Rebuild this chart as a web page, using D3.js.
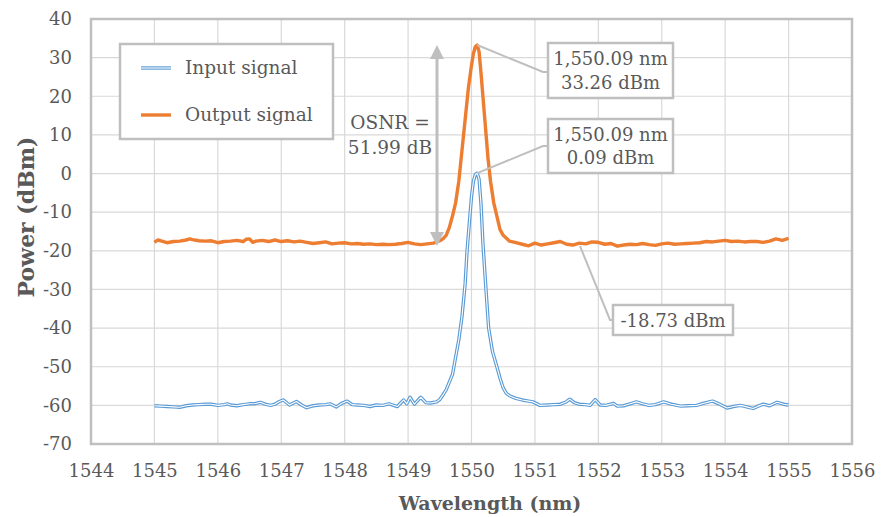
<!DOCTYPE html>
<html><head><meta charset="utf-8">
<script src="https://cdn.jsdelivr.net/npm/d3@7"></script>
<style>body{margin:0;background:#fff}svg{display:block}</style>
</head><body>
<svg id="c" width="885" height="517"></svg>
<script>
// ---- data ----
const xTicks = [1544,1545,1546,1547,1548,1549,1550,1551,1552,1553,1554,1555,1556];
const yTicks = [40,30,20,10,0,-10,-20,-30,-40,-50,-60,-70];
const seriesNames = ["Input signal","Output signal"];
const outputSignal = [
[1545.0,-17.8],[1545.05,-17.2],[1545.1,-17.4],[1545.2,-17.9],[1545.3,-17.6],[1545.4,-17.5],[1545.5,-17.2],[1545.56,-16.9],
[1545.6,-17.1],[1545.7,-17.4],[1545.8,-17.5],[1545.9,-17.4],[1546.0,-17.9],[1546.1,-17.6],[1546.2,-17.5],[1546.3,-17.3],
[1546.4,-17.6],[1546.45,-17.0],[1546.5,-16.9],[1546.55,-17.8],[1546.6,-17.5],[1546.7,-17.3],[1546.8,-17.6],[1546.9,-17.2],
[1547.0,-17.6],[1547.1,-17.4],[1547.2,-17.7],[1547.3,-17.5],[1547.4,-17.8],[1547.5,-18.1],[1547.6,-17.9],[1547.7,-17.7],
[1547.8,-18.2],[1547.9,-18.0],[1548.0,-17.9],[1548.1,-18.2],[1548.2,-18.1],[1548.3,-18.3],[1548.4,-18.2],[1548.5,-18.4],
[1548.6,-18.3],[1548.7,-18.4],[1548.8,-18.3],[1548.9,-18.1],[1549.0,-17.8],[1549.1,-18.2],[1549.2,-18.4],[1549.3,-18.2],
[1549.4,-18.0],[1549.5,-17.4],[1549.55,-16.9],[1549.6,-16.0],[1549.65,-14.0],[1549.7,-11.0],[1549.75,-7.5],[1549.8,-2.0],
[1549.85,6.0],[1549.9,14.0],[1549.95,22.0],[1550.0,28.0],[1550.03,31.0],[1550.06,32.8],[1550.09,33.26],[1550.12,31.5],
[1550.15,26.0],[1550.18,20.0],[1550.22,12.0],[1550.26,4.0],[1550.3,-2.0],[1550.35,-7.5],[1550.4,-11.0],[1550.45,-14.5],
[1550.5,-16.0],[1550.6,-17.5],[1550.7,-17.9],[1550.8,-18.3],[1550.9,-18.7],[1551.0,-18.0],[1551.1,-18.5],[1551.2,-18.2],
[1551.3,-17.9],[1551.4,-17.6],[1551.5,-18.3],[1551.6,-18.5],[1551.7,-18.0],[1551.8,-18.2],[1551.9,-17.7],[1552.0,-17.8],
[1552.1,-18.3],[1552.2,-18.1],[1552.3,-18.8],[1552.4,-18.5],[1552.5,-18.3],[1552.6,-18.4],[1552.7,-18.1],[1552.8,-18.4],
[1552.9,-18.6],[1553.0,-18.2],[1553.1,-18.0],[1553.2,-18.3],[1553.3,-18.2],[1553.4,-18.1],[1553.5,-18.0],[1553.6,-17.9],
[1553.7,-17.6],[1553.8,-17.7],[1553.9,-17.5],[1554.0,-17.3],[1554.1,-17.6],[1554.2,-17.5],[1554.3,-17.7],[1554.4,-17.6],
[1554.5,-17.6],[1554.6,-17.8],[1554.7,-17.5],[1554.8,-16.9],[1554.9,-17.3],[1555.0,-16.8]
];
const inputSignal = [
[1545.0,-60.1],[1545.1,-60.2],[1545.2,-60.3],[1545.3,-60.4],[1545.4,-60.5],[1545.5,-60.1],[1545.6,-59.9],[1545.7,-59.8],
[1545.8,-59.7],[1545.9,-59.7],[1546.0,-60.0],[1546.1,-59.8],[1546.15,-59.6],[1546.2,-59.9],[1546.3,-60.1],[1546.4,-59.8],
[1546.5,-59.6],[1546.6,-59.5],[1546.67,-59.2],[1546.75,-59.7],[1546.83,-60.0],[1546.9,-59.7],[1546.97,-59.0],[1547.03,-58.6],
[1547.13,-59.9],[1547.24,-59.0],[1547.32,-59.9],[1547.4,-60.6],[1547.5,-60.1],[1547.6,-59.9],[1547.7,-59.8],[1547.77,-59.6],
[1547.87,-60.4],[1547.95,-59.5],[1548.04,-58.9],[1548.12,-59.8],[1548.2,-59.9],[1548.3,-60.0],[1548.4,-60.3],[1548.5,-59.9],
[1548.6,-60.0],[1548.7,-59.6],[1548.83,-60.3],[1548.93,-58.6],[1548.98,-59.6],[1549.03,-57.9],[1549.1,-59.7],[1549.2,-57.9],
[1549.28,-59.3],[1549.35,-59.4],[1549.45,-59.1],[1549.5,-58.5],[1549.55,-57.3],[1549.6,-56.0],[1549.65,-54.0],[1549.7,-52.0],
[1549.75,-47.5],[1549.8,-43.0],[1549.85,-37.0],[1549.9,-28.5],[1549.93,-20.0],[1549.97,-12.0],[1550.0,-6.0],[1550.03,-2.0],
[1550.06,-0.3],[1550.09,0.09],[1550.12,-1.5],[1550.15,-8.0],[1550.18,-18.0],[1550.22,-28.0],[1550.27,-40.0],[1550.33,-46.0],
[1550.4,-50.0],[1550.45,-53.0],[1550.5,-55.5],[1550.55,-56.9],[1550.6,-57.5],[1550.7,-58.2],[1550.8,-58.6],[1550.9,-58.9],
[1550.97,-59.1],[1551.08,-60.0],[1551.2,-59.9],[1551.3,-59.8],[1551.4,-59.7],[1551.48,-59.2],[1551.55,-58.4],[1551.62,-59.3],
[1551.7,-59.7],[1551.8,-59.8],[1551.87,-60.0],[1551.95,-58.5],[1552.03,-59.9],[1552.12,-60.0],[1552.24,-59.5],[1552.3,-60.2],
[1552.4,-60.1],[1552.5,-59.6],[1552.6,-59.1],[1552.7,-59.6],[1552.8,-60.0],[1552.9,-59.8],[1553.03,-59.1],[1553.15,-59.7],
[1553.3,-60.2],[1553.4,-60.1],[1553.55,-60.0],[1553.65,-59.5],[1553.8,-58.9],[1553.9,-59.6],[1554.03,-60.7],[1554.13,-60.3],
[1554.24,-60.0],[1554.34,-60.4],[1554.44,-60.8],[1554.52,-60.2],[1554.6,-59.7],[1554.7,-60.1],[1554.82,-59.2],[1554.92,-59.7],
[1555.0,-59.9]
];
const peakOut = [1550.09, 33.26];
const peakIn = [1550.09, 0.09];
const noiseFloor = [1551.71, -18.73];
const calloutOut = ["1,550.09 nm","33.26 dBm"];
const calloutIn = ["1,550.09 nm","0.09 dBm"];
const calloutNoise = ["-18.73 dBm"];
const osnrLabel = ["OSNR =","51.99 dB"];

// ---- drawing ----
const L=91,R=852,T=19,B=444;
const FONT = "'DejaVu Serif', serif";
const FS = "18px";
const svg = d3.select("#c");
const x = d3.scaleLinear().domain([1544,1556]).range([L,R]);
const y = d3.scaleLinear().domain([-70,40]).range([B,T]);
const grid="#d9d9d9", border="#bfbfbf", txt="#595959";
const blue="#5b9bd5", orange="#ed7d31";

// gridlines
svg.append("g").selectAll("line").data(xTicks).join("line")
  .attr("x1",d=>x(d)).attr("x2",d=>x(d)).attr("y1",T).attr("y2",B)
  .attr("stroke",grid).attr("stroke-width",1.2);
svg.append("g").selectAll("line").data(yTicks).join("line")
  .attr("x1",L).attr("x2",R).attr("y1",d=>y(d)).attr("y2",d=>y(d))
  .attr("stroke",grid).attr("stroke-width",1.2);
// plot border
svg.append("rect").attr("x",L).attr("y",T).attr("width",R-L).attr("height",B-T)
  .attr("fill","none").attr("stroke",border).attr("stroke-width",2.5);

// axes
const ax = svg.append("g").attr("transform",`translate(0,${B})`)
  .call(d3.axisBottom(x).tickValues(xTicks).tickSize(0).tickPadding(20).tickFormat(d=>String(d)));
const ay = svg.append("g").attr("transform",`translate(${L},0)`)
  .call(d3.axisLeft(y).tickValues(yTicks).tickSize(0).tickPadding(19).tickFormat(d=>String(d)));
[ax,ay].forEach(g=>{g.select(".domain").remove();
  g.selectAll("text").attr("fill",txt).style("font-family",FONT).style("font-size",FS);});

// axis titles
svg.append("text").attr("x",490).attr("y",510).attr("text-anchor","middle")
  .attr("fill",txt).style("font-family",FONT).style("font-size","19px").style("font-weight","bold")
  .text("Wavelength (nm)");
svg.append("text").attr("transform",`translate(34,217) rotate(-90)`).attr("text-anchor","middle")
  .attr("fill",txt).style("font-family",FONT).style("font-size","22px").style("font-weight","bold")
  .text("Power (dBm)");

// lines
const line = d3.line().x(d=>x(d[0])).y(d=>y(d[1]));
svg.append("path").datum(outputSignal).attr("d",line).attr("fill","none")
  .attr("stroke",orange).attr("stroke-width",3.4).attr("stroke-linejoin","round");
svg.append("path").datum(inputSignal).attr("d",line).attr("fill","none")
  .attr("stroke",blue).attr("stroke-width",3.4).attr("stroke-linejoin","round");
svg.append("path").datum(inputSignal).attr("d",line).attr("fill","none")
  .attr("stroke","#fff").attr("stroke-width",1.1).attr("stroke-linejoin","round");

// legend
const lg = svg.append("g");
lg.append("rect").attr("x",120).attr("y",44).attr("width",213).attr("height",95)
  .attr("fill","#fff").attr("stroke",border).attr("stroke-width",2.5);
lg.append("line").attr("x1",141).attr("x2",171).attr("y1",68).attr("y2",68).attr("stroke",blue).attr("stroke-width",3.4);
lg.append("line").attr("x1",141).attr("x2",171).attr("y1",68).attr("y2",68).attr("stroke","#fff").attr("stroke-width",1.1);
lg.append("line").attr("x1",141).attr("x2",171).attr("y1",115).attr("y2",115).attr("stroke",orange).attr("stroke-width",3.4);
lg.selectAll("text").data(seriesNames).join("text")
  .attr("x",185).attr("y",(d,i)=>74+i*47).attr("fill",txt)
  .style("font-family",FONT).style("font-size","18.5px").text(d=>d);

// OSNR arrow
const ax0=437, yTop=y(peakOut[1]), yBot=y(noiseFloor[1]);
const ag = svg.append("g").attr("fill",border).attr("stroke",border);
ag.append("line").attr("x1",ax0).attr("x2",ax0).attr("y1",yTop+10).attr("y2",yBot-10).attr("stroke-width",3);
ag.append("path").attr("stroke","none").attr("d",`M${ax0},${yTop} L${ax0-7},${yTop+14} L${ax0+7},${yTop+14} Z`);
ag.append("path").attr("stroke","none").attr("d",`M${ax0},${yBot} L${ax0-7},${yBot-14} L${ax0+7},${yBot-14} Z`);
svg.selectAll(".osnr").data(osnrLabel).join("text").attr("class","osnr")
  .attr("x",390).attr("y",(d,i)=>129+i*25).attr("text-anchor","middle").attr("fill",txt)
  .style("font-family",FONT).style("font-size","18.5px").text(d=>d);

// callouts
function callout(pt, pts, box, lines){
  const g = svg.append("g");
  const p = [[x(pt[0]),y(pt[1])]].concat(pts);
  g.append("path").attr("d",d3.line()(p)).attr("fill","none").attr("stroke",border).attr("stroke-width",2);
  g.append("rect").attr("x",box[0]).attr("y",box[1]).attr("width",box[2]).attr("height",box[3])
    .attr("fill","#fff").attr("stroke",border).attr("stroke-width",2.5);
  const n=lines.length, lh=23.5;
  g.selectAll("text").data(lines).join("text")
    .attr("x",box[0]+box[2]/2).attr("y",(d,i)=>box[1]+box[3]/2+(i-(n-1)/2)*lh+6.5)
    .attr("text-anchor","middle").attr("fill",txt)
    .style("font-family",FONT).style("font-size","18px").text(d=>d);
}
callout(peakOut, [[543,72],[548,72]], [548,43,125,55], calloutOut);
callout(peakIn, [[543,146],[548,146]], [548,119,125,54], calloutIn);
callout(noiseFloor, [[610,320],[613,320]], [613,305,120,30], calloutNoise);
</script>
</body></html>
